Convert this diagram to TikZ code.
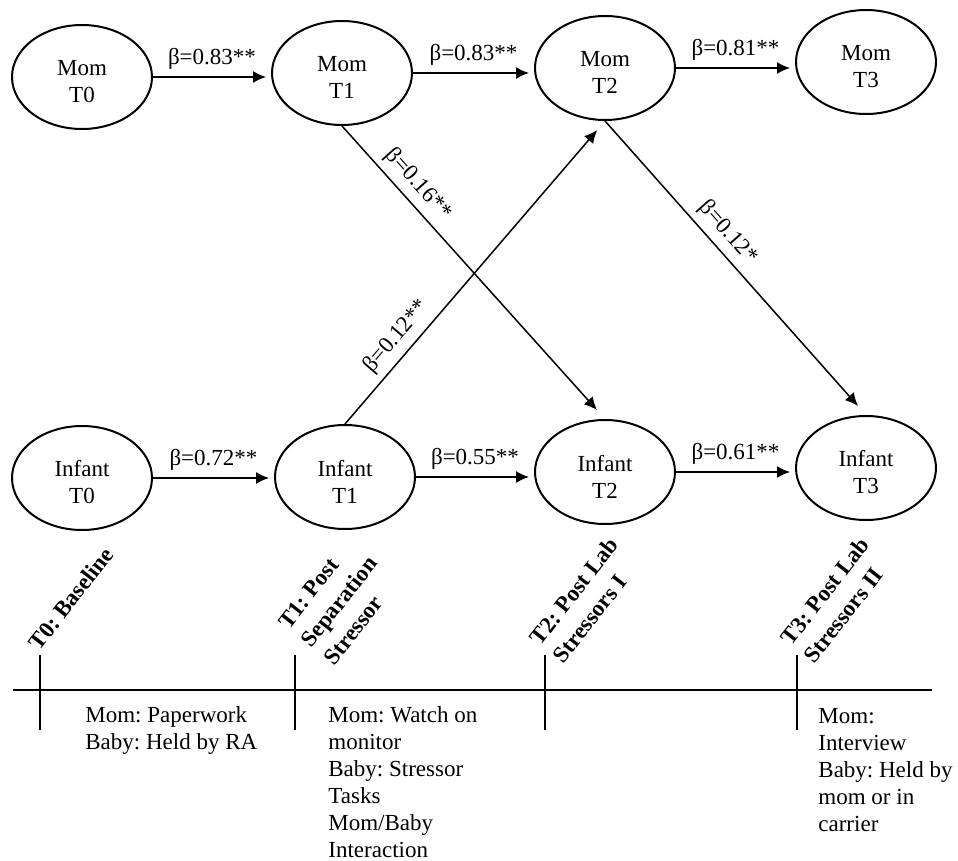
\documentclass[tikz,border=0pt]{standalone}
\usepackage{fontspec}
\setmainfont{Liberation Serif}
\frenchspacing
\usetikzlibrary{positioning}
\usetikzlibrary{shapes.geometric}
\usetikzlibrary{arrows.meta}

\begin{document}
\begin{tikzpicture}[x=0.5pt,y=-0.5pt,
	every node/.style={font=\fontsize{11.5pt}{13.5pt}\selectfont},
	state/.style={ellipse, draw, line width=1pt, minimum width=70pt, minimum height=52pt, align=center, inner sep=1pt, text height=26pt},
	link/.style={-{Latex[length=6.5pt,width=6pt]}, line width=0.75pt},
	beta/.style={above},
	phase/.style={rotate=52, anchor=south west, align=left, inner sep=0pt, font=\fontsize{11.5pt}{14.5pt}\selectfont\bfseries},
	task/.style={anchor=north west, align=left, inner sep=0pt}]
					\useasboundingbox (0,0) rectangle (958,861);

					%Nodes
					\node[state] (m0) at (82,77)  {Mom\\T0};
					\node[state] (m1) at (342,73) {Mom\\T1};
					\node[state] (m2) at (605,68) {Mom\\T2};
					\node[state] (m3) at (866,62) {Mom\\T3};

					\node[state] (i0) at (82,478)  {Infant\\T0};
					\node[state] (i1) at (345,477) {Infant\\T1};
					\node[state] (i2) at (605,472) {Infant\\T2};
					\node[state] (i3) at (866,468) {Infant\\T3};

					%Paths
					\draw[link, shorten >=2.5pt] (m0.east) -- node[beta] {β=0.83**} (m0.east -| m1.west);
					\draw[link, shorten >=2.5pt] (m1.east) -- node[beta] {β=0.83**} (m1.east -| m2.west);
					\draw[link, shorten >=2.5pt] (m2.east) -- node[beta] {β=0.81**} (m2.east -| m3.west);

					\draw[link, shorten >=2.5pt] (i0.east) -- node[beta] {β=0.72**} (i0.east -| i1.west);
					\draw[link, shorten >=2.5pt] (i1.east) -- node[beta] {β=0.55**} (i1.east -| i2.west);
					\draw[link, shorten >=2.5pt] (i2.east) -- node[beta] {β=0.61**} (i2.east -| i3.west);

					\draw[link, shorten >=6pt] (m1.south) -- node[beta, sloped, pos=0.24] {β=0.16**} (i2.north);
					\draw[link, shorten >=6pt] (i1.north) -- node[beta, sloped, pos=0.25] {β=0.12**} (m2.south);
					\draw[link, shorten >=6pt] (m2.south) -- node[beta, sloped, pos=0.42] {β=0.12*} (i3.north);

					%Timeline
					\coordinate      (tl0) 	at 	(13,690);
					\coordinate      (tl1) 	at 	(932,690);
					\draw[line width=1pt] (tl0) -- (tl1);

					\coordinate      (t0) 	at 	(40,690);
					\coordinate      (t1) 	at 	(295,690);
					\coordinate      (t2) 	at 	(545,690);
					\coordinate      (t3) 	at 	(797,690);
					\foreach \t in {t0,t1,t2,t3}
						\draw[line width=0.75pt] ([yshift=17.5pt]\t) -- ([yshift=-20pt]\t);

					\node[phase] (p0) at (40,652)  {T0: Baseline};
					\node[phase] (p1) at (335,667) {T1: Post\\Separation\\Stressor};
					\node[phase] (p2) at (564,665) {T2: Post Lab\\Stressors I};
					\node[phase] (p3) at (815,665) {T3: Post Lab\\Stressors II};

					\node[task] (k0) at (85,706)  {Mom: Paperwork\\Baby: Held by RA};
					\node[task] (k1) at (328,706) {Mom: Watch on\\monitor\\Baby: Stressor\\Tasks\\Mom/Baby\\Interaction};
					\node[task] (k3) at (818,708) {Mom:\\Interview\\Baby: Held by\\mom or in\\carrier};

				\end{tikzpicture}
\end{document}
